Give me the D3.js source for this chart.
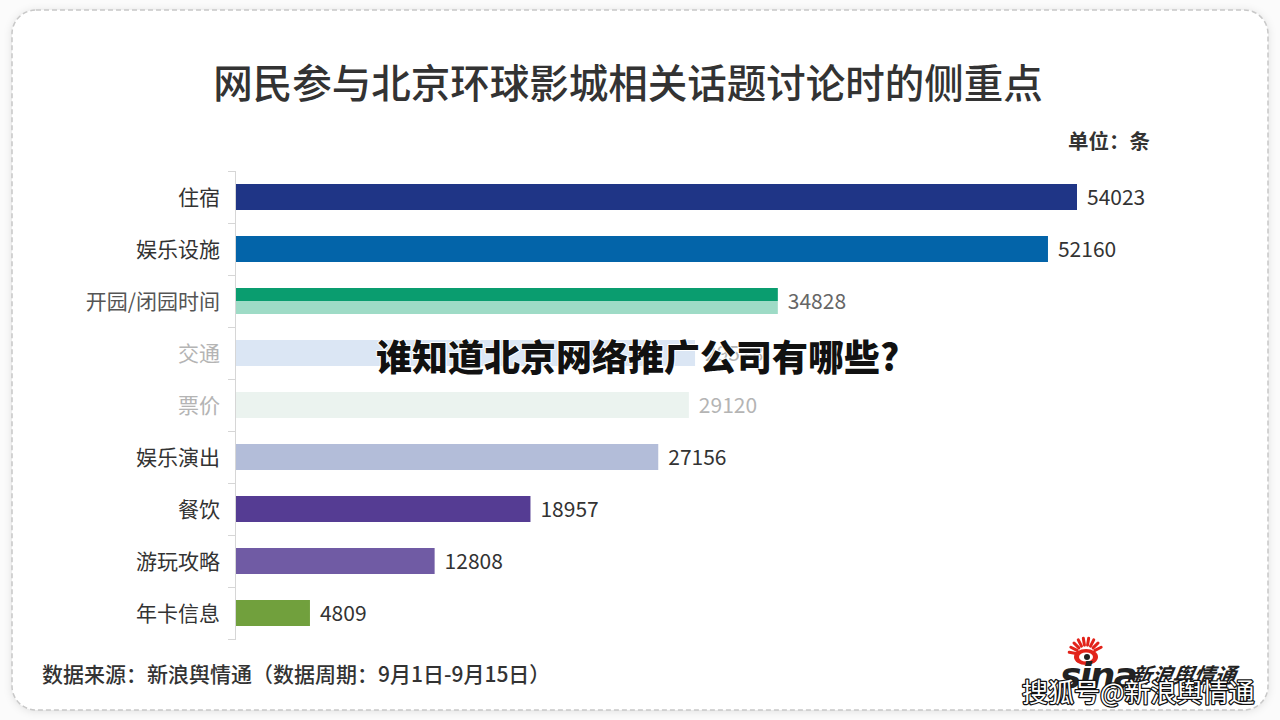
<!DOCTYPE html>
<html><head><meta charset="utf-8">
<script src="https://cdn.jsdelivr.net/npm/d3@7"></script>
<style>
html,body{margin:0;padding:0;background:#fff;}
svg{display:block;font-family:"Noto Sans CJK SC","Noto Sans",sans-serif;}
</style></head>
<body>
<svg id="c" width="1280" height="720"></svg>
<script>
const categories = ["住宿","娱乐设施","开园/闭园时间","交通","票价","娱乐演出","餐饮","游玩攻略","年卡信息"];
const values = [54023,52160,34828,29518,29120,27156,18957,12808,4809];
const barColors = ["#1f3586","#0364a9","#0a9d6f","#dbe6f4","#ebf3ef","#b3bdd9","#553c93","#705ba4","#71a03d"];
const barColors2 = [null,null,"#9edbc6",null,null,null,null,null,null];
const faded = [false,false,false,true,true,false,false,false,false];

const svg = d3.select("#c");
const defs = svg.append("defs");
const f = defs.append("filter").attr("id","sh").attr("x","-5%").attr("y","-5%").attr("width","110%").attr("height","110%");
f.append("feGaussianBlur").attr("in","SourceAlpha").attr("stdDeviation",4);
f.append("feOffset").attr("dx",0).attr("dy",1).attr("result","b");
f.append("feFlood").attr("flood-color","#000").attr("flood-opacity",0.12);
f.append("feComposite").attr("in2","b").attr("operator","in");
const fm = f.append("feMerge"); fm.append("feMergeNode"); fm.append("feMergeNode").attr("in","SourceGraphic");

svg.append("rect").attr("x",0).attr("y",0).attr("width",1280).attr("height",720).attr("fill","#fbfbfb");
svg.append("rect").attr("x",12).attr("y",10).attr("width",1256).attr("height",700).attr("rx",24)
  .attr("fill","#fff").attr("filter","url(#sh)");
svg.append("rect").attr("x",12).attr("y",10).attr("width",1256).attr("height",700).attr("rx",24)
  .attr("fill","none").attr("stroke","#c8c8c8").attr("stroke-width",1.5).attr("stroke-dasharray","5,3");

svg.append("text").attr("x",628).attr("y",98).attr("text-anchor","middle")
  .attr("font-size",39.5).attr("font-weight",500).attr("fill","#333").text("网民参与北京环球影城相关话题讨论时的侧重点");
svg.append("text").attr("x",1150).attr("y",149).attr("text-anchor","end")
  .attr("font-size",20.5).attr("font-weight",700).attr("fill","#333").text("单位：条");

const y = d3.scaleBand().domain(categories).range([171,639]).paddingInner(0.5).paddingOuter(0.25);
const x = d3.scaleLinear().domain([0,54023]).range([235,1077]);

// axis line and ticks at band boundaries
const g = svg.append("g");
g.append("line").attr("x1",235.5).attr("x2",235.5).attr("y1",171).attr("y2",640).attr("stroke","#d6d6d6").attr("stroke-width",1);
const bounds = categories.map(c => y(c) - y.step()*y.paddingOuter()).concat([y.range()[1]]);
g.selectAll("line.tk").data(bounds).join("line").attr("class","tk")
  .attr("x1",228).attr("x2",236).attr("y1",d=>d+0.5).attr("y2",d=>d+0.5).attr("stroke","#d6d6d6");

const rows = svg.append("g").selectAll("g").data(categories).join("g");
rows.each(function(c,i){
  const s = d3.select(this);
  const y0 = y(c), h = y.bandwidth();
  if (barColors2[i]) {
    s.append("rect").attr("x",x(0)+1).attr("y",y0).attr("width",x(values[i])-x(0)-1).attr("height",h/2).attr("fill",barColors[i]);
    s.append("rect").attr("x",x(0)+1).attr("y",y0+h/2).attr("width",x(values[i])-x(0)-1).attr("height",h/2).attr("fill",barColors2[i]);
  } else {
    s.append("rect").attr("x",x(0)+1).attr("y",y0).attr("width",x(values[i])-x(0)-1).attr("height",h).attr("fill",barColors[i]);
  }
  s.append("text").attr("x",220).attr("y",y0+h/2).attr("dy","0.36em").attr("text-anchor","end")
    .attr("font-size",21).attr("fill",faded[i]?"#b4b4b4":(i===2?"#555":"#333")).text(c);
  s.append("text").attr("x",x(values[i])+10).attr("y",y0+h/2).attr("dy","0.36em")
    .attr("font-size",21).attr("fill",faded[i]?"#b4b4b4":(i===2?"#666":"#333")).text(values[i]);
});

svg.append("text").attr("x",42).attr("y",682).attr("font-size",21).attr("font-weight",500).attr("fill","#333")
  .text("数据来源：新浪舆情通（数据周期：9月1日-9月15日）");

// sina logo approximation
const lg = svg.append("g");
const eyeX = 1086, eyeY = 655;
lg.selectAll("line.ray").data(d3.range(9)).join("line")
  .attr("x1",d=>eyeX+Math.cos(Math.PI*(-0.95+d*0.1))*10).attr("y1",d=>eyeY+Math.sin(Math.PI*(-0.95+d*0.1))*10)
  .attr("x2",d=>eyeX+Math.cos(Math.PI*(-0.95+d*0.1))*17).attr("y2",d=>eyeY+Math.sin(Math.PI*(-0.95+d*0.1))*17)
  .attr("stroke","#e2231a").attr("stroke-width",3).attr("stroke-linecap","round");
lg.append("ellipse").attr("cx",eyeX).attr("cy",eyeY+2).attr("rx",12).attr("ry",8).attr("fill","#e2231a");
lg.append("ellipse").attr("cx",eyeX).attr("cy",eyeY+2).attr("rx",7).attr("ry",4.5).attr("fill","#fff");
lg.append("circle").attr("cx",eyeX+1).attr("cy",eyeY+2).attr("r",3).attr("fill","#222");
lg.append("text").attr("x",1060).attr("y",688).attr("font-size",36).attr("font-weight",900).attr("font-style","italic")
  .attr("font-family","DejaVu Sans").attr("fill","#222").attr("letter-spacing",-2).text("sina");
lg.append("text").attr("x",1130).attr("y",683).attr("font-size",21).attr("font-weight",700).attr("font-style","italic")
  .attr("fill","#222").attr("transform","skewX(-10) translate(120,0)").text("新浪舆情通");

// overlay texts
svg.append("text").attr("x",376).attr("y",371).attr("font-size",36).attr("font-weight",900).attr("fill","#111")
  .attr("stroke","#fff").attr("stroke-width",2).attr("paint-order","stroke").attr("stroke-linejoin","round")
  .text("谁知道北京网络推广公司有哪些?");
svg.append("text").attr("x",1022).attr("y",702).attr("font-size",26).attr("font-weight",400).attr("fill","#fff")
  .attr("stroke","#111").attr("stroke-width",2.5).attr("paint-order","stroke").attr("stroke-linejoin","round")
  .text("搜狐号@新浪舆情通");
</script>
</body></html>
